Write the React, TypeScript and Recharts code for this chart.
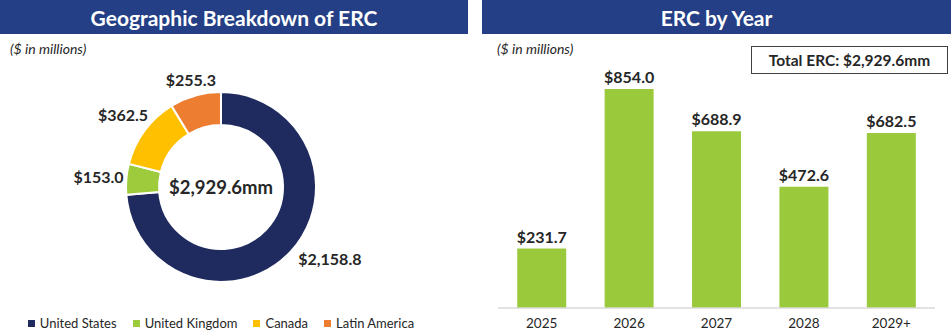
import React from "react";
import {
  PieChart,
  Pie,
  Cell,
  Legend,
  BarChart,
  Bar,
  XAxis,
  YAxis,
  LabelList,
} from "recharts";

const regions = ["United States", "United Kingdom", "Canada", "Latin America"];
const regionValues = [2158.8, 153.0, 362.5, 255.3];
const regionColors = ["#1F2A5E", "#9DCB3C", "#FFC000", "#ED7D31"];

const years = ["2025", "2026", "2027", "2028", "2029+"];
const yearValues = [231.7, 854.0, 688.9, 472.6, 682.5];

const FONT = "Lato, 'Open Sans', sans-serif";
const HEADER = "#243F85";
const TEXT = "#262626";
const BAR_GREEN = "#9ACA3C";

const pieData = regions.map((name, i) => ({ name, value: regionValues[i] }));
const barData = years.map((year, i) => ({ year, value: yearValues[i] }));

const total = regionValues.reduce((a, b) => a + b, 0);
const money = (v: number) =>
  "$" + v.toLocaleString("en-US", { minimumFractionDigits: 1, maximumFractionDigits: 1 });

const RAD = Math.PI / 180;
const PIE_CX = 221;
const PIE_CY = 187;

const renderPieLabel = (props: any) => {
  const { cx, cy, midAngle, outerRadius, value } = props;
  const text = money(value);
  const hx = Math.cos(-midAngle * RAD);
  const vy = Math.sin(-midAngle * RAD);
  const w = text.length * 7.8;
  const h = 13;
  let x: number;
  let y: number;
  let anchor: "start" | "middle" | "end" = "middle";
  if (hx > 0) {
    const r = outerRadius + 10;
    x = cx + r * hx;
    y = cy + r * vy;
    anchor = "start";
  } else {
    const r = outerRadius + 4 + (w / 2) * Math.abs(hx) + (h / 2) * Math.abs(vy);
    x = cx + r * hx;
    y = cy + r * vy;
  }
  return (
    <text
      x={x}
      y={y}
      textAnchor={anchor}
      dominantBaseline="central"
      fill={TEXT}
      fontSize={16}
      fontWeight={700}
      fontFamily={FONT}
    >
      {text}
    </text>
  );
};

const renderLegend = () => (
  <div
    style={{
      display: "flex",
      justifyContent: "center",
      gap: 16,
      fontFamily: FONT,
      fontSize: 13,
      color: TEXT,
    }}
  >
    {regions.map((name, i) => (
      <div key={name} style={{ display: "flex", alignItems: "center" }}>
        <span
          style={{
            width: 7,
            height: 7,
            background: regionColors[i],
            marginRight: 5,
            display: "inline-block",
          }}
        />
        {name}
      </div>
    ))}
  </div>
);

const headerStyle: React.CSSProperties = {
  position: "absolute",
  top: 0,
  height: 34,
  background: HEADER,
  color: "#fff",
  fontFamily: FONT,
  fontWeight: 700,
  fontSize: 21,
  display: "flex",
  alignItems: "center",
  justifyContent: "center",
};

const unitStyle: React.CSSProperties = {
  position: "absolute",
  top: 40,
  fontFamily: FONT,
  fontStyle: "italic",
  fontSize: 14,
  color: TEXT,
};

export default function App() {
  return (
    <div
      style={{
        position: "absolute",
        left: 0,
        top: 0,
        width: 951,
        height: 332,
        background: "#fff",
        overflow: "hidden",
      }}
    >
      <div style={{ ...headerStyle, left: 0, width: 468 }}>Geographic Breakdown of ERC</div>
      <div style={{ ...headerStyle, left: 482, width: 469 }}>ERC by Year</div>
      <div style={{ ...unitStyle, left: 10 }}>($ in millions)</div>
      <div style={{ ...unitStyle, left: 497 }}>($ in millions)</div>

      <div style={{ position: "absolute", left: 0, top: 0 }}>
        <PieChart width={468} height={332} margin={{ top: 0, right: 0, bottom: 0, left: 0 }}>
          <Pie
            data={pieData}
            dataKey="value"
            nameKey="name"
            cx={PIE_CX}
            cy={PIE_CY}
            innerRadius={62}
            outerRadius={95}
            startAngle={90}
            endAngle={-270}
            stroke="#fff"
            strokeWidth={2}
            label={renderPieLabel}
            labelLine={false}
            isAnimationActive={false}
          >
            {pieData.map((d, i) => (
              <Cell key={d.name} fill={regionColors[i]} />
            ))}
          </Pie>
          <Legend
            content={renderLegend}
            wrapperStyle={{ left: 0, width: 442, bottom: 1, top: "auto" }}
          />
        </PieChart>
      </div>

      <div
        style={{
          position: "absolute",
          left: PIE_CX - 60,
          top: PIE_CY - 12,
          width: 120,
          height: 24,
          display: "flex",
          alignItems: "center",
          justifyContent: "center",
          fontFamily: FONT,
          fontWeight: 700,
          fontSize: 18.5,
          color: TEXT,
        }}
      >
        {money(total)}mm
      </div>

      <div
        style={{
          position: "absolute",
          left: 751,
          top: 46,
          width: 195,
          height: 26,
          border: "1.5px solid #404040",
          display: "flex",
          alignItems: "center",
          justifyContent: "center",
          fontFamily: FONT,
          fontWeight: 700,
          fontSize: 15.5,
          color: TEXT,
        }}
      >
        Total ERC: {money(total)}mm
      </div>

      <div style={{ position: "absolute", left: 475, top: 0 }}>
        <BarChart
          width={476}
          height={332}
          data={barData}
          margin={{ top: 51.6, right: 16, bottom: 4, left: 23 }}
          barCategoryGap="22%"
        >
          <XAxis
            dataKey="year"
            axisLine={{ stroke: "#D9D9D9", strokeWidth: 1.5 }}
            tickLine={false}
            tickMargin={4}
            height={20}
            interval={0}
            tick={{ fill: TEXT, fontSize: 13.5, fontFamily: FONT }}
          />
          <YAxis hide domain={[0, 1000]} />
          <Bar dataKey="value" fill={BAR_GREEN} isAnimationActive={false}>
            <LabelList
              dataKey="value"
              position="top"
              offset={6}
              formatter={(v: any) => money(Number(v))}
              fill={TEXT}
              fontSize={16}
              fontWeight={700}
              fontFamily={FONT}
            />
          </Bar>
        </BarChart>
      </div>
    </div>
  );
}
